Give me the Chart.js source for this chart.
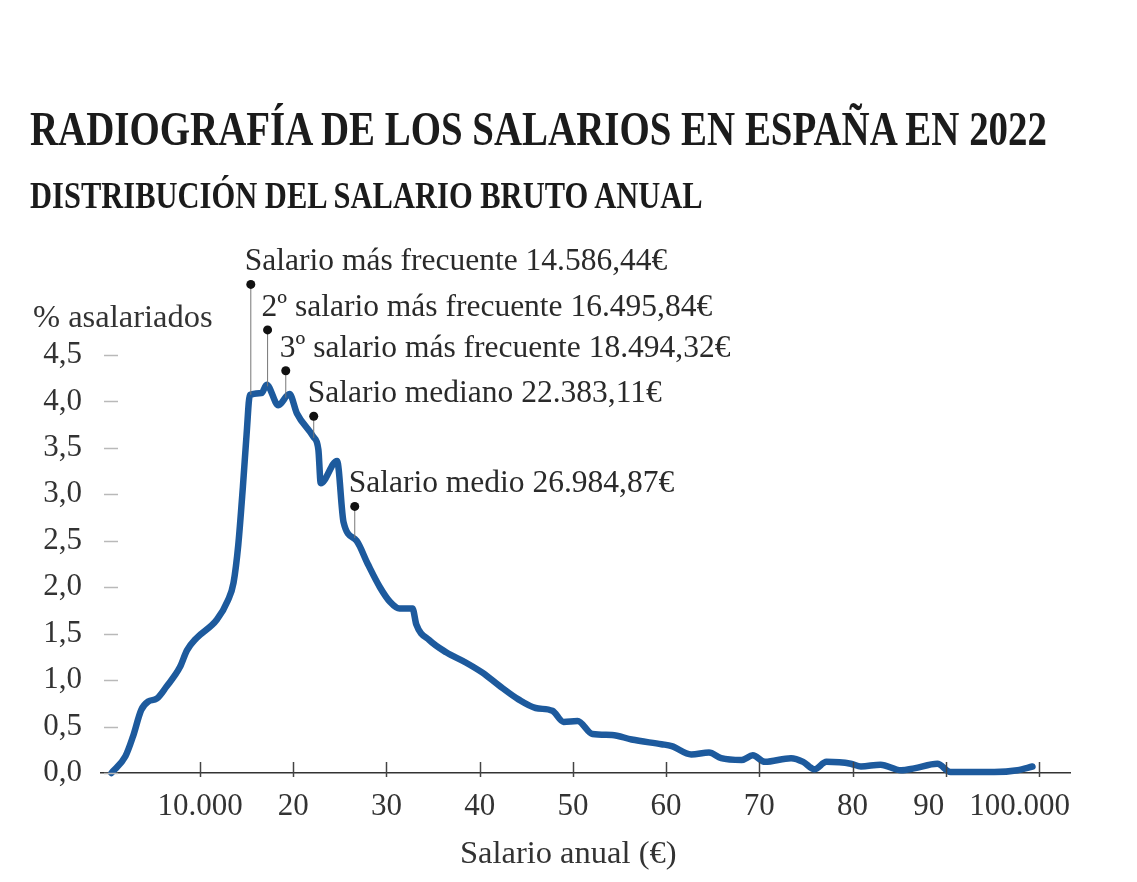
<!DOCTYPE html>
<html lang="es">
<head>
<meta charset="utf-8">
<title>Radiografía de los salarios en España en 2022</title>
<script src="https://cdn.jsdelivr.net/npm/chart.js@4.4.1/dist/chart.umd.min.js"></script>
<style>
  html, body { margin: 0; padding: 0; background: #fff; }
  body { width: 1137px; height: 882px; position: relative; overflow: hidden; font-family: "Liberation Serif", serif; }
  .wrap { position: absolute; left: 0; top: 0; width: 1137px; height: 882px; }
  h1, h2 { position: absolute; left: 30px; margin: 0; font-weight: bold; color: #1b1b1b; white-space: nowrap; transform-origin: 0 0; line-height: 1; }
  h1 { top: 105px; font-size: 48px; }
  h2 { top: 176px; font-size: 38px; }
</style>
</head>
<body>
<div class="wrap"><canvas id="grafico" width="1137" height="882"></canvas></div>
<h1 id="titulo">RADIOGRAFÍA DE LOS SALARIOS EN ESPAÑA EN 2022</h1>
<h2 id="subtitulo">DISTRIBUCIÓN DEL SALARIO BRUTO ANUAL</h2>
<script>
// salario anual bruto (€) y % de asalariados
const salarios = [
  500, 2000, 2800, 3700, 4450, 5350, 6400, 7850, 8600, 9600,
  11800, 13000, 13600, 14100, 14600, 15000, 15350, 16600, 17150, 18400,
  19600, 20400, 22150, 22700, 22950, 24700, 25400, 26800, 28000, 29300,
  30400, 31400, 32800, 33200, 34600, 36400, 38500, 40300, 42100, 44200,
  46000, 47800, 49000, 50500, 52100, 54200, 56300, 59500, 60600, 62700,
  64600, 65900, 68100, 69300, 70600, 73400, 74700, 75900, 77200, 79800,
  80900, 83000, 85200, 86600, 89100, 90500, 95200, 97700, 99300
];
const porcentajes = [
  0.00, 0.18, 0.39, 0.68, 0.77, 0.80, 0.93, 1.14, 1.32, 1.45,
  1.65, 1.86, 2.05, 2.45, 3.08, 3.65, 4.07, 4.09, 4.18, 3.96,
  4.08, 3.87, 3.62, 3.48, 3.12, 3.36, 2.70, 2.50, 2.25, 2.00,
  1.84, 1.77, 1.77, 1.60, 1.43, 1.30, 1.19, 1.08, 0.94, 0.79,
  0.70, 0.67, 0.55, 0.56, 0.42, 0.41, 0.36, 0.31, 0.29, 0.20,
  0.22, 0.16, 0.14, 0.19, 0.12, 0.16, 0.12, 0.04, 0.12, 0.10,
  0.07, 0.09, 0.03, 0.05, 0.10, 0.01, 0.01, 0.03, 0.07
];

const ticksX = [10000, 20000, 30000, 40000, 50000, 60000, 70000, 80000, 90000, 100000];
const ticksY = [0, 0.5, 1, 1.5, 2, 2.5, 3, 3.5, 4, 4.5];

// marcas destacadas: texto, salario donde cae la marca, altura del punto (% asalariados)
const notasTexto = [
  "Salario más frecuente 14.586,44€",
  "2º salario más frecuente 16.495,84€",
  "3º salario más frecuente 18.494,32€",
  "Salario mediano 22.383,11€",
  "Salario medio 26.984,87€"
];
const notasSalario = [15450, 17250, 19200, 22200, 26600];
const notasAltura = [5.26, 4.77, 4.33, 3.84, 2.87];

const fuente = '"Liberation Serif", "DejaVu Serif", serif';
const azul = "#1d5a9d";

// ajustar los titulos al ancho del original (letra condensada)
const ajustar = function (id, ancho) {
  const el = document.getElementById(id);
  el.style.transform = "scaleX(" + (ancho / el.offsetWidth) + ")";
};
ajustar("titulo", 1017);
ajustar("subtitulo", 673);

const valorEn = function (s) {
  for (let i = 1; i < salarios.length; i++) {
    if (s <= salarios[i]) {
      const t = (s - salarios[i - 1]) / (salarios[i] - salarios[i - 1]);
      return porcentajes[i - 1] + t * (porcentajes[i] - porcentajes[i - 1]);
    }
  }
  return 0;
};

const etiquetaX = function (v) {
  if (v === 10000 || v === 100000) return v.toLocaleString("de-DE");
  return String(v / 1000);
};

const decoracion = {
  id: "decoracion",
  afterDraw(chart) {
    const ctx = chart.ctx;
    const xs = chart.scales.x;
    const ys = chart.scales.y;
    const area = chart.chartArea;
    ctx.save();

    // guiones de los ticks del eje Y
    ctx.strokeStyle = "#b9b9b9";
    ctx.lineWidth = 1.5;
    ys.ticks.forEach(function (t) {
      const py = Math.round(ys.getPixelForValue(t.value)) + 0.5;
      ctx.beginPath();
      ctx.moveTo(area.left + 3, py);
      ctx.lineTo(area.left + 17, py);
      ctx.stroke();
    });

    // marcas del eje X que cruzan la linea
    ctx.strokeStyle = "#444";
    xs.ticks.forEach(function (t) {
      const px = Math.round(xs.getPixelForValue(t.value)) + 0.5;
      ctx.beginPath();
      ctx.moveTo(px, area.bottom - 11);
      ctx.lineTo(px, area.bottom + 4);
      ctx.stroke();
    });

    // etiquetas del eje X: la ultima se pega al final del eje
    ctx.font = "31px " + fuente;
    ctx.fillStyle = "#333";
    ctx.textBaseline = "middle";
    const n = xs.ticks.length;
    const textos = xs.ticks.map(function (t) { return etiquetaX(t.value); });
    const anchos = textos.map(function (s) { return ctx.measureText(s).width; });
    const centros = xs.ticks.map(function (t) { return xs.getPixelForValue(t.value); });
    centros[n - 1] = area.right - anchos[n - 1] / 2;
    const hueco = 25;
    const limite = centros[n - 1] - anchos[n - 1] / 2 - hueco;
    if (centros[n - 2] + anchos[n - 2] / 2 > limite) centros[n - 2] = limite - anchos[n - 2] / 2;
    ctx.textAlign = "center";
    textos.forEach(function (s, i) {
      ctx.fillText(s, centros[i], area.bottom + 34);
    });

    // titulos de ejes
    ctx.font = "32.5px " + fuente;
    ctx.textBaseline = "alphabetic";
    ctx.textAlign = "left";
    ctx.fillText("% asalariados", 33, 327);
    ctx.textAlign = "center";
    ctx.fillText("Salario anual (€)", xs.getPixelForValue(49500), 863);

    // anotaciones
    ctx.font = "31.5px " + fuente;
    ctx.textAlign = "left";
    notasTexto.forEach(function (texto, i) {
      const px = xs.getPixelForValue(notasSalario[i]);
      const pTop = ys.getPixelForValue(notasAltura[i]);
      const pFin = ys.getPixelForValue(valorEn(notasSalario[i]));
      ctx.strokeStyle = "#777";
      ctx.lineWidth = 1;
      ctx.beginPath();
      ctx.moveTo(px, pTop);
      ctx.lineTo(px, pFin);
      ctx.stroke();
      ctx.fillStyle = "#111";
      ctx.beginPath();
      ctx.arc(px, pTop, 4.5, 0, Math.PI * 2);
      ctx.fill();
      ctx.fillStyle = "#2a2a2a";
      ctx.fillText(texto, px - 6, pTop - 14);
    });
    ctx.restore();
  },
};

const puntos = salarios.map(function (s, i) {
  return { x: s, y: porcentajes[i] };
});

const grafico = new Chart(document.getElementById("grafico"), {
  type: "line",
  data: {
    datasets: [
      {
        data: puntos,
        borderColor: azul,
        borderWidth: 6.5,
        pointRadius: 0,
        fill: false,
        tension: 0.25,
        cubicInterpolationMode: "monotone",
        borderJoinStyle: "round",
        borderCapStyle: "round",
        clip: 10,
      },
    ],
  },
  options: {
    responsive: false,
    animation: false,
    devicePixelRatio: 1,
    layout: { padding: { top: 355, right: 67, bottom: 0, left: 0 } },
    plugins: {
      legend: { display: false },
      tooltip: { enabled: false },
    },
    scales: {
      x: {
        type: "linear",
        min: -620,
        max: 103325,
        afterBuildTicks: function (s) {
          s.ticks = ticksX.map(function (v) { return { value: v }; });
        },
        afterFit: function (s) { s.height = 109; },
        grid: { display: false, drawTicks: false },
        border: { display: true, color: "#333", width: 1.5 },
        ticks: { display: false, callback: etiquetaX },
      },
      y: {
        min: 0,
        max: 4.5,
        afterBuildTicks: function (s) {
          s.ticks = ticksY.map(function (v) { return { value: v }; });
        },
        afterFit: function (s) { s.width = 101; },
        grid: { display: false, drawTicks: false },
        border: { display: false },
        ticks: {
          padding: 19,
          color: "#333",
          font: { family: fuente, size: 31 },
          callback: function (v) { return v.toFixed(1).replace(".", ","); },
        },
      },
    },
  },
  plugins: [decoracion],
});
</script>
</body>
</html>
